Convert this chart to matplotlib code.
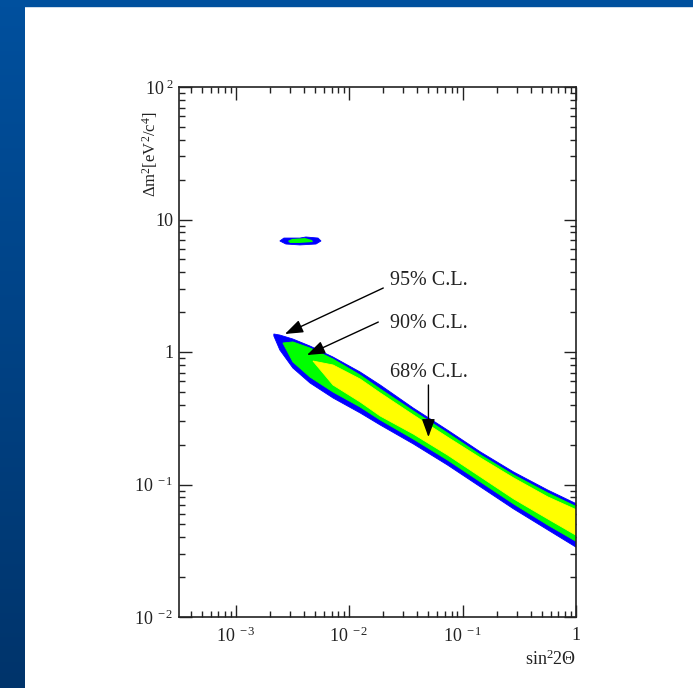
import numpy as np
import matplotlib
matplotlib.use("Agg")
import matplotlib.pyplot as plt
from matplotlib.patches import Rectangle
from matplotlib.colors import LinearSegmentedColormap
from matplotlib.ticker import FixedLocator, FixedFormatter, LogLocator, NullFormatter

plt.rcParams["font.family"] = ["Liberation Serif", "DejaVu Serif"]
plt.rcParams["mathtext.fontset"] = "custom"
plt.rcParams["mathtext.rm"] = "Liberation Serif"
plt.rcParams["mathtext.it"] = "Liberation Serif:italic"
plt.rcParams["mathtext.bf"] = "Liberation Serif:bold"

# --- Allowed regions (log10 sin^2 2theta, log10 dm^2) ---
CL95_LOGX = [-2.664, -2.611, -2.496, -2.345, -2.142, -1.903, -1.726, -1.434,
             -1.133, -0.841, -0.549, -0.248, 0.027]
CL95_UP   = [0.136, 0.128, 0.098, 0.045, -0.038, -0.151, -0.249, -0.423,
             -0.589, -0.755, -0.906, -1.042, -1.155]
CL95_LO   = [0.121, 0.015, -0.121, -0.234, -0.347, -0.460, -0.551, -0.694,
             -0.853, -1.019, -1.185, -1.343, -1.487]

CL90_LOGX = [-2.584, -2.496, -2.345, -2.142, -1.903, -1.726, -1.434, -1.133,
             -0.841, -0.549, -0.248, 0.027]
CL90_UP   = [0.068, 0.076, 0.030, -0.053, -0.174, -0.279, -0.445, -0.611,
             -0.777, -0.928, -1.064, -1.177]
CL90_LO   = [0.068, -0.075, -0.189, -0.302, -0.415, -0.513, -0.657, -0.815,
             -0.981, -1.147, -1.306, -1.442]

CL68_LOGX = [-2.319, -2.142, -1.903, -1.726, -1.434, -1.133, -0.841, -0.549,
             -0.248, 0.027]
CL68_UP   = [-0.068, -0.098, -0.204, -0.309, -0.475, -0.642, -0.800, -0.951,
             -1.094, -1.200]
CL68_LO   = [-0.068, -0.249, -0.377, -0.483, -0.619, -0.777, -0.943, -1.109,
             -1.260, -1.396]

# small island near dm^2 ~ 7 eV^2
ISL95_LOGX = [-2.611, -2.575, -2.434, -2.381, -2.274, -2.248, -2.292, -2.434, -2.558]
ISL95_LOGY = [0.838, 0.860, 0.860, 0.868, 0.860, 0.838, 0.815, 0.808, 0.815]
ISL90_LOGX = [-2.540, -2.504, -2.389, -2.327, -2.319, -2.434, -2.522]
ISL90_LOGY = [0.838, 0.853, 0.860, 0.845, 0.830, 0.823, 0.823]

# --- Annotations ---
CL_LABELS   = ["95% C.L.", "90% C.L.", "68% C.L."]
LABEL_LOGX  = [-1.637, -1.637, -1.637]
LABEL_LOGY  = [0.506, 0.181, -0.189]
ARROW_TAIL_LOGX = [-1.699, -1.743, -1.301]
ARROW_TAIL_LOGY = [0.483, 0.226, -0.249]
ARROW_TIP_LOGX  = [-2.566, -2.372, -1.301]
ARROW_TIP_LOGY  = [0.136, -0.023, -0.642]

# --- Axes ticks ---
X_TICKS  = [1e-3, 1e-2, 1e-1, 1]
X_LABELS = [r"$\mathregular{10^{\ -3}}$", r"$\mathregular{10^{\ -2}}$",
            r"$\mathregular{10^{\ -1}}$", "1"]
Y_TICKS  = [1e-2, 1e-1, 1, 10, 1e2]
Y_LABELS = [r"$\mathregular{10^{\ -2}}$", r"$\mathregular{10^{\ -1}}$", "1", "10",
            r"$\mathregular{10^{\ 2}}$"]

BLUE   = "#0000ff"
GREEN  = "#00ff00"
YELLOW = "#ffff00"

W, H = 693, 688
fig = plt.figure(figsize=(W / 100, H / 100), dpi=100, facecolor="white")

# slide frame: gradient strip on the left, thin bar on top
ax_bg = fig.add_axes([0, 0, 25 / W, 1])
grad = np.linspace(0, 1, 256).reshape(-1, 1)
cmap_bg = LinearSegmentedColormap.from_list("slide", ["#00509e", "#00346b"])
ax_bg.imshow(grad, aspect="auto", cmap=cmap_bg, extent=[0, 1, 1, 0])
ax_bg.set_axis_off()
fig.patches.append(Rectangle((0, 1 - 6 / H), 1, 6 / H, transform=fig.transFigure,
                             color="#00509e", zorder=5))

ax = fig.add_axes([179 / W, 1 - 617 / H, 397 / W, 530 / H])
ax.set_xscale("log")
ax.set_yscale("log")
ax.set_xlim(10 ** -3.5, 1)
ax.set_ylim(1e-2, 1e2)


def band(logx, up, lo, color):
    x = np.concatenate([logx, logx[::-1]])
    y = np.concatenate([up, lo[::-1]])
    ax.fill(10 ** x, 10 ** y, color=color, lw=0.6, ec=color, zorder=2)


band(np.array(CL95_LOGX), np.array(CL95_UP), np.array(CL95_LO), BLUE)
band(np.array(CL90_LOGX), np.array(CL90_UP), np.array(CL90_LO), GREEN)
band(np.array(CL68_LOGX), np.array(CL68_UP), np.array(CL68_LO), YELLOW)
ax.fill(10 ** np.array(ISL95_LOGX), 10 ** np.array(ISL95_LOGY), color=BLUE, lw=0.6, zorder=2)
ax.fill(10 ** np.array(ISL90_LOGX), 10 ** np.array(ISL90_LOGY), color=GREEN, lw=0, zorder=2)

for lab, lx, ly in zip(CL_LABELS, LABEL_LOGX, LABEL_LOGY):
    ax.text(10 ** lx, 10 ** ly, lab, fontsize=14.5, ha="left", va="baseline",
            color="#222222")
for tx, ty, hx, hy in zip(ARROW_TAIL_LOGX, ARROW_TAIL_LOGY, ARROW_TIP_LOGX, ARROW_TIP_LOGY):
    ax.annotate("", xy=(10 ** hx, 10 ** hy), xytext=(10 ** tx, 10 ** ty),
                arrowprops=dict(arrowstyle="-|>,head_length=1.1,head_width=0.4",
                                color="black", lw=1.0, mutation_scale=10,
                                shrinkA=0, shrinkB=0), zorder=4)

# ticks on all four sides, pointing inward
ax.xaxis.set_major_locator(FixedLocator(X_TICKS))
ax.xaxis.set_major_formatter(FixedFormatter(X_LABELS))
ax.yaxis.set_major_locator(FixedLocator(Y_TICKS))
ax.yaxis.set_major_formatter(FixedFormatter(Y_LABELS))
for axis in (ax.xaxis, ax.yaxis):
    axis.set_minor_locator(LogLocator(base=10, subs=np.arange(2, 10), numticks=20))
    axis.set_minor_formatter(NullFormatter())
ax.tick_params(which="both", direction="in", top=True, right=True, colors="#222222",
               width=1.0, labelsize=13)
ax.tick_params(which="major", length=9)
ax.tick_params(which="minor", length=4.5)
ax.tick_params(axis="x", pad=7)
ax.tick_params(axis="y", pad=4)
for s in ax.spines.values():
    s.set_linewidth(1.2)
    s.set_color("#222222")

ax.text(1.0, -0.0906, r"$\mathregular{sin^2 2\Theta}$", transform=ax.transAxes,
        ha="right", va="baseline", fontsize=13, color="#222222")
ax.text(-0.073, 0.955, r"$\mathregular{\Delta m^2 [eV^2/c^4]}$", transform=ax.transAxes,
        rotation=90, ha="center", va="top", fontsize=12, color="#222222")

fig.savefig("out.png", dpi=100, facecolor="white")
